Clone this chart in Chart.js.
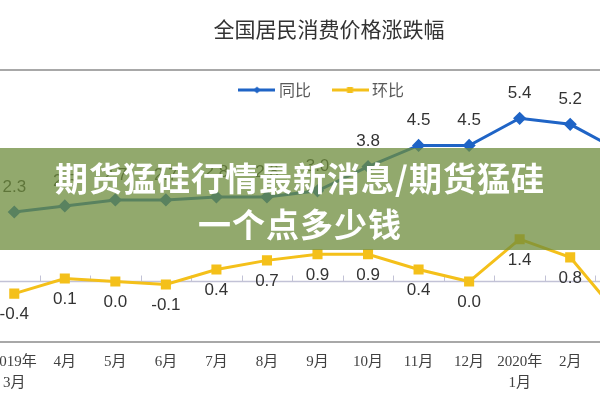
<!DOCTYPE html>
<html>
<head>
<meta charset="utf-8">
<script src="https://cdn.jsdelivr.net/npm/chart.js@4/dist/chart.umd.min.js"></script>
<style>
  html, body { margin: 0; padding: 0; width: 600px; height: 400px; overflow: hidden; background: #fff; }
  #wrap { position: absolute; left: -19px; top: 0; width: 677px; height: 411px; }
  #title { position: absolute; left: 0; top: 13px; width: 658px; text-align: center;
    font: 21px/30px 'Noto Sans CJK SC', sans-serif; color: #333; }
  #banner { position: absolute; left: 0; top: 148px; width: 600px; height: 102px;
    background: rgba(110,140,60,0.75); color: #fff; text-align: center;
    font: 700 33px/46px 'Noto Sans CJK SC', sans-serif; padding-top: 6px; box-sizing: border-box; letter-spacing: 1px; }
</style>
</head>
<body>
<div id="wrap"><canvas id="c" width="677" height="411"></canvas></div>
<div id="title">全国居民消费价格涨跌幅</div>
<div id="banner">期货猛硅行情最新消息/期货猛硅<br>一个点多少钱</div>
<script>
const categories = [['2019年', '3月'], '4月', '5月', '6月', '7月', '8月', '9月', '10月', '11月', '12月', ['2020年', '1月'], '2月', '3月'];
const yoyLabel = '同比';
const momLabel = '环比';
const yoyValues = [2.3, 2.5, 2.7, 2.7, 2.8, 2.8, 3.0, 3.8, 4.5, 4.5, 5.4, 5.2, 4.3];
const momValues = [-0.4, 0.1, 0.0, -0.1, 0.4, 0.7, 0.9, 0.9, 0.4, 0.0, 1.4, 0.8, -1.2];

const BLUE = '#1f64c6';
const YELLOW = '#f4c01a';

function legendImage(color, shape) {
  const cv = document.createElement('canvas');
  cv.width = 37; cv.height = 10;
  const g = cv.getContext('2d');
  g.strokeStyle = color; g.lineWidth = 3;
  g.beginPath(); g.moveTo(0, 5); g.lineTo(37, 5); g.stroke();
  g.fillStyle = color;
  g.beginPath();
  if (shape === 'diamond') { g.moveTo(18.5, 1.5); g.lineTo(22, 5); g.lineTo(18.5, 8.5); g.lineTo(15, 5); }
  else { g.rect(15.5, 2, 6, 6); }
  g.fill();
  return cv;
}

const decor = {
  id: 'decor',
  afterLayout(chart) {
    chart.legend.left += 10;
    chart.legend.right += 10;
  },
  beforeDatasetsDraw(chart) {
    const ctx = chart.ctx, xs = chart.scales.x, ys = chart.scales.y, a = chart.chartArea;
    ctx.save();
    // top rule
    ctx.strokeStyle = '#a8a8a8'; ctx.lineWidth = 2;
    const ty = a.top - 38;
    ctx.beginPath(); ctx.moveTo(0, ty); ctx.lineTo(chart.width, ty); ctx.stroke();
    // zero line with tick marks
    const zy = ys.getPixelForValue(0);
    ctx.strokeStyle = '#c2c2d6'; ctx.lineWidth = 1.5;
    ctx.beginPath(); ctx.moveTo(a.left, zy); ctx.lineTo(a.right, zy); ctx.stroke();
    ctx.lineWidth = 1;
    for (let i = -1; i < categories.length; i++) {
      const x = Math.round(xs.getPixelForValue(i + 0.5)) + 0.5;
      ctx.beginPath(); ctx.moveTo(x, zy); ctx.lineTo(x, zy - 6); ctx.stroke();
    }
    ctx.restore();
  },
  afterDatasetsDraw(chart) {
    const ctx = chart.ctx;
    ctx.save();
    ctx.font = '17px "Liberation Sans", Arial, sans-serif';
    ctx.fillStyle = '#333';
    ctx.textAlign = 'center';
    ctx.textBaseline = 'middle';
    chart.data.datasets.forEach((ds, di) => {
      const meta = chart.getDatasetMeta(di);
      meta.data.forEach((pt, i) => {
        const off = di === 0 ? -25 : 21;
        ctx.fillText(ds.data[i].toFixed(1), pt.x, pt.y + off);
      });
    });
    ctx.restore();
  }
};

new Chart(document.getElementById('c'), {
  type: 'line',
  data: {
    labels: categories,
    datasets: [
      { label: yoyLabel, data: yoyValues, borderColor: BLUE, backgroundColor: BLUE, borderWidth: 3,
        pointStyle: 'rectRot', pointRadius: 4.5, tension: 0 },
      { label: momLabel, data: momValues, borderColor: YELLOW, backgroundColor: YELLOW, borderWidth: 3,
        pointStyle: 'rect', pointRadius: 5, tension: 0 }
    ]
  },
  options: {
    responsive: false,
    animation: false,
    layout: { padding: { left: 0, right: 12, top: 57, bottom: 7 } },
    plugins: {
      title: { display: false },
      tooltip: { enabled: false },
      legend: {
        display: true,
        position: 'top',
        labels: {
          usePointStyle: true,
          pointStyleWidth: 28,
          padding: 25,
          color: '#595959',
          font: { size: 16, family: '"Noto Sans CJK SC", sans-serif' },
          generateLabels(chart) {
            return chart.data.datasets.map((ds, i) => ({
              text: ds.label,
              fillStyle: ds.borderColor,
              strokeStyle: ds.borderColor,
              lineWidth: 0,
              fontColor: '#595959',
              pointStyle: legendImage(ds.borderColor, i === 0 ? 'diamond' : 'square'),
              hidden: false,
              datasetIndex: i
            }));
          }
        }
      }
    },
    scales: {
      x: {
        offset: true,
        grid: { display: false, drawTicks: false },
        border: { display: true, color: '#a8a8a8', width: 2 },
        ticks: {
          autoSkip: false, maxRotation: 0, minRotation: 0, padding: 10,
          color: '#404040',
          font: { size: 15, family: '"Liberation Serif", "Noto Sans CJK SC", serif', lineHeight: 1.4 }
        }
      },
      y: {
        display: false,
        min: -2,
        max: 5.74
      }
    }
  },
  plugins: [decor]
});
</script>
</body>
</html>
